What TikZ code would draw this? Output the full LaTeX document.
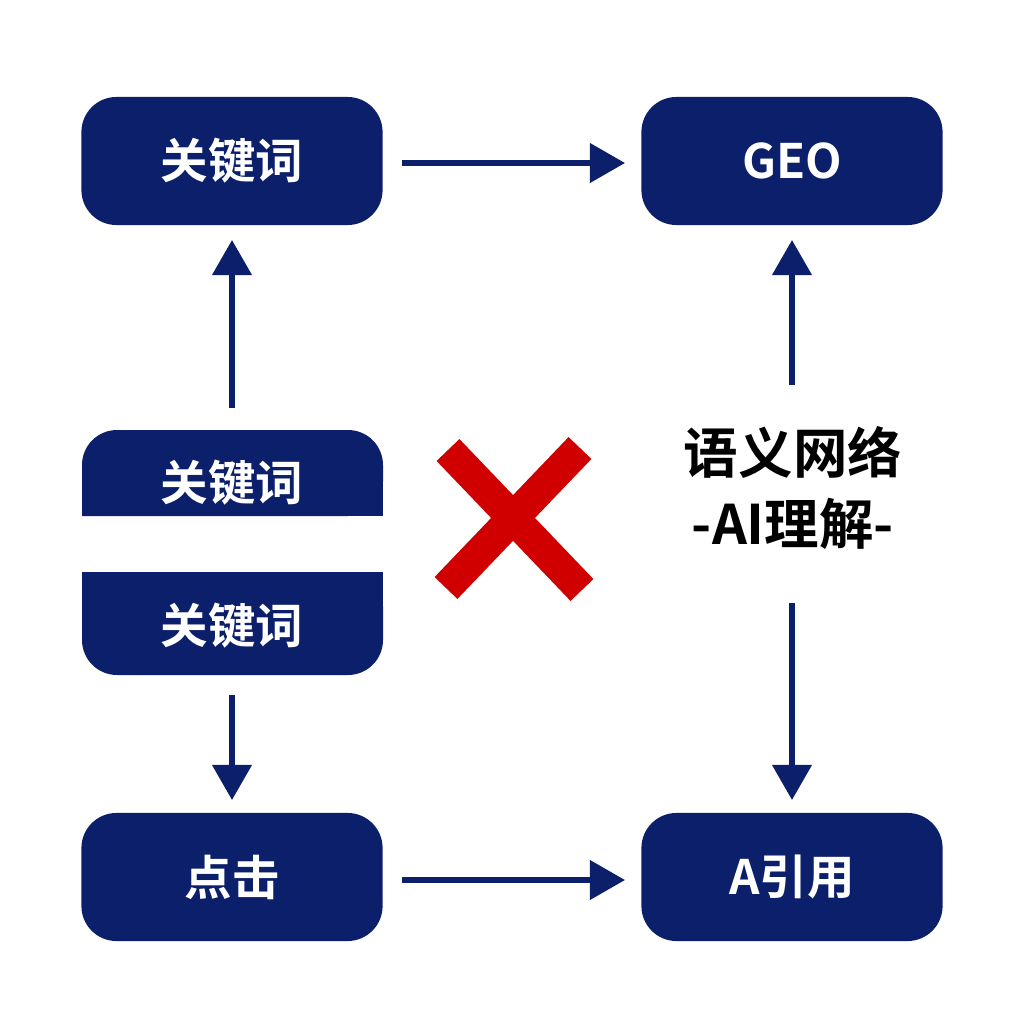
\documentclass[tikz,border=0pt]{standalone}
\usepackage{fontspec}
\newfontfamily\cjk{Noto Sans CJK SC}[BoldFont={* Bold}]
\usetikzlibrary{arrows.meta}
\definecolor{navy}{HTML}{0B1F6B}
\definecolor{xred}{HTML}{D10000}
\begin{document}
\begin{tikzpicture}[x=0.01cm,y=-0.01cm,
  box/.style={fill=navy,rounded corners=0.35cm,minimum width=3.01cm,minimum height=1.28cm,text=white,font=\cjk\bfseries\fontsize{13.5}{15}\selectfont},
  lbl/.style={text=white,font=\cjk\bfseries\fontsize{13.5}{15}\selectfont},
  arr/.style={navy,line width=1.6pt,-{Triangle[length=10pt,width=11pt]}}]
\useasboundingbox (0,0) rectangle (1024,1024);
\fill[white] (0,0) rectangle (1024,1024);
\node[box] (kw) at (232,161) {关键词};
\node[box] (geo) at (792,161) {GEO};
\node[box] (click) at (232,877) {点击};
\node[box] (cite) at (792,877) {A引用};
\fill[navy,rounded corners=0.35cm] (82,516) -- (82,430) -- (383,430) -- (383,516) [sharp corners] -- cycle;
\fill[navy] (82,516) rectangle (383,470);
\fill[navy,rounded corners=0.35cm] (82,572) -- (383,572) -- (383,675) -- (82,675) -- cycle;
\fill[navy] (82,572) rectangle (383,620);
\node[lbl] (kw1) at (232,483) {关键词};
\node[lbl] (kw2) at (232,626) {关键词};
\node[font=\cjk\bfseries\fontsize{15.5}{18}\selectfont,align=center,inner sep=0] (sem) at (793,488) {语义网络\\[2pt]-AI理解-};
\coordinate (a1) at (232,408); \coordinate (a2) at (232,695);
\coordinate (b1) at (792,385); \coordinate (b2) at (792,603);
\draw[arr] (a1) -- (232,240);
\draw[arr] (a2) -- (232,800);
\draw[arr] (b1) -- (792,240);
\draw[arr] (b2) -- (792,800);
\draw[arr] (402,163) -- (625,163);
\draw[arr] (402,880) -- (625,880);
\draw[xred,line width=9pt] (448,450) -- (582,590);
\draw[xred,line width=9pt] (580,448) -- (446,588);
\end{tikzpicture}
\end{document}
